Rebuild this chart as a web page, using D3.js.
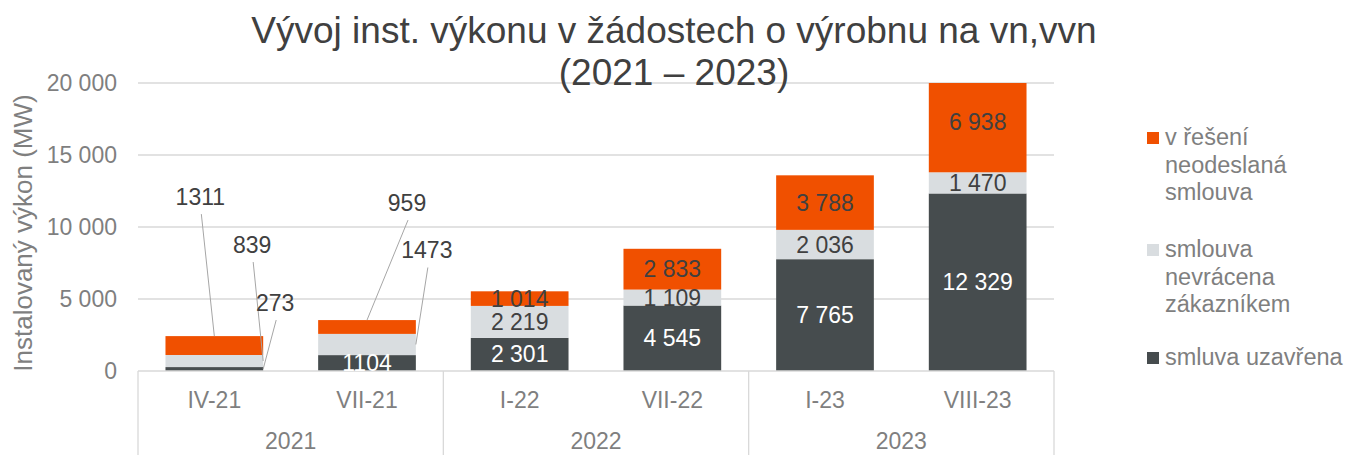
<!DOCTYPE html>
<html>
<head>
<meta charset="utf-8">
<script src="https://cdn.jsdelivr.net/npm/d3@7"></script>
<style>
  body { margin: 0; background: #fff; }
  text { font-family: "Liberation Sans", Arial, sans-serif; }
</style>
</head>
<body>
<div id="chart"></div>
<script>
// data
var categories = ["IV-21", "VII-21", "I-22", "VII-22", "I-23", "VIII-23"];
var years = ["2021", "2021", "2022", "2022", "2023", "2023"];
var uzavrena = [273, 1104, 2301, 4545, 7765, 12329];
var nevracena = [839, 1473, 2219, 1109, 2036, 1470];
var reseni = [1311, 959, 1014, 2833, 3788, 6938];
var yTicks = [0, 5000, 10000, 15000, 20000];
var seriesKeys = ["uzavrena", "nevracena", "reseni"];
var legendLines = {
  reseni: ["v řešení", "neodeslaná", "smlouva"],
  nevracena: ["smlouva", "nevrácena", "zákazníkem"],
  uzavrena: ["smluva uzavřena"]
};
var titleLines = ["Vývoj inst. výkonu v žádostech o výrobnu na vn,vvn", "(2021 – 2023)"];
var yTitle = "Instalovaný výkon (MW)";

// colours
var colors = { uzavrena: "#464c4e", nevracena: "#d9dde0", reseni: "#f05000" };
var labelColors = { uzavrena: "#ffffff", nevracena: "#404040", reseni: "#404040" };

// labels placed outside with leader lines (offsets in px from the anchor on the bar)
var callouts = [
  { cat: "IV-21", key: "reseni", side: "top", dx: -14, dy: -139 },
  { cat: "IV-21", key: "nevracena", side: "right", dx: -11, dy: -116 },
  { cat: "IV-21", key: "uzavrena", side: "right", dx: 12, dy: -66 },
  { cat: "VII-21", key: "reseni", side: "top", dx: 40, dy: -117 },
  { cat: "VII-21", key: "nevracena", side: "right", dx: 11, dy: -94 }
];

var svgWidth = 1348;
var svgHeight = 455;
var margin = { top: 83, right: 294, bottom: 84, left: 138 };
var width = svgWidth - margin.left - margin.right;
var height = svgHeight - margin.top - margin.bottom;

var svg = d3.select("#chart")
  .append("svg")
  .attr("width", svgWidth)
  .attr("height", svgHeight);

// build table for the stack
var table = categories.map(function(c, i) {
  return { cat: c, year: years[i], uzavrena: uzavrena[i], nevracena: nevracena[i], reseni: reseni[i] };
});
var stacked = d3.stack().keys(seriesKeys)(table);

var x = d3.scaleBand()
  .domain(categories)
  .range([margin.left, margin.left + width])
  .paddingInner(0.36)
  .paddingOuter(0.18);

var y = d3.scaleLinear()
  .domain([0, 20000])
  .range([margin.top + height, margin.top]);

var fmtSpace = function(v) { return d3.format(",")(v).replace(/,/g, " "); };
var fmtLabel = function(v, year) { return year === "2021" ? String(v) : fmtSpace(v); };

// gridlines
svg.append("g")
  .selectAll("line")
  .data(yTicks.filter(function(t) { return t > 0; }))
  .enter()
  .append("line")
  .attr("x1", margin.left)
  .attr("x2", margin.left + width)
  .attr("y1", function(d) { return y(d); })
  .attr("y2", function(d) { return y(d); })
  .attr("stroke", "#d9d9d9")
  .attr("stroke-width", 1.3);

// y axis labels
var yAxis = svg.append("g")
  .attr("transform", "translate(" + margin.left + ",0)")
  .call(d3.axisLeft(y).tickValues(yTicks).tickSize(0).tickPadding(21).tickFormat(fmtSpace));
yAxis.select(".domain").remove();
yAxis.selectAll("text")
  .attr("fill", "#7f7f7f")
  .style("font-size", "23px")
  .style("font-family", "'Liberation Sans', Arial, sans-serif");

// y title
svg.append("text")
  .attr("transform", "translate(32,233) rotate(-90)")
  .attr("text-anchor", "middle")
  .attr("fill", "#7f7f7f")
  .style("font-size", "26px")
  .text(yTitle);

// clip at the top of the value axis
svg.append("clipPath")
  .attr("id", "plotClip")
  .append("rect")
  .attr("x", margin.left)
  .attr("y", margin.top)
  .attr("width", width)
  .attr("height", height);

var barsGroup = svg.append("g").attr("clip-path", "url(#plotClip)");

barsGroup.selectAll("g")
  .data(stacked)
  .enter()
  .append("g")
  .attr("fill", function(s) { return colors[s.key]; })
  .selectAll("rect")
  .data(function(s) { return s; })
  .enter()
  .append("rect")
  .attr("x", function(d) { return x(d.data.cat); })
  .attr("width", x.bandwidth())
  .attr("y", function(d) { return y(d[1]); })
  .attr("height", function(d) { return y(d[0]) - y(d[1]); });

// category axis: base line, group separators, labels
var y0 = y(0);
svg.append("line")
  .attr("x1", margin.left)
  .attr("x2", margin.left + width)
  .attr("y1", y0)
  .attr("y2", y0)
  .attr("stroke", "#d9d9d9")
  .attr("stroke-width", 1.3);

var groups = [];
years.forEach(function(yr, i) {
  if (!groups.length || groups[groups.length - 1].year !== yr) {
    groups.push({ year: yr, start: i, end: i });
  } else {
    groups[groups.length - 1].end = i;
  }
});
var step = x.step();
var sepIdx = [0].concat(groups.map(function(g) { return g.end + 1; }));

svg.append("g")
  .selectAll("line")
  .data(sepIdx)
  .enter()
  .append("line")
  .attr("x1", function(i) { return margin.left + i * step; })
  .attr("x2", function(i) { return margin.left + i * step; })
  .attr("y1", y0)
  .attr("y2", svgHeight)
  .attr("stroke", "#d9d9d9")
  .attr("stroke-width", 1.3);

svg.append("g")
  .selectAll("text")
  .data(categories)
  .enter()
  .append("text")
  .attr("x", function(d) { return x(d) + x.bandwidth() / 2; })
  .attr("y", y0 + 37)
  .attr("text-anchor", "middle")
  .attr("fill", "#7f7f7f")
  .style("font-size", "23px")
  .text(function(d) { return d; });

svg.append("g")
  .selectAll("text")
  .data(groups)
  .enter()
  .append("text")
  .attr("x", function(g) { return margin.left + (g.start + g.end + 1) / 2 * step; })
  .attr("y", y0 + 78)
  .attr("text-anchor", "middle")
  .attr("fill", "#7f7f7f")
  .style("font-size", "23px")
  .text(function(g) { return g.year; });

// data labels
var isCallout = function(cat, key) {
  return callouts.some(function(c) { return c.cat === cat && c.key === key; });
};

var labelsGroup = svg.append("g").attr("clip-path", "url(#plotClip)");
stacked.forEach(function(s) {
  labelsGroup.selectAll(null)
    .data(s.filter(function(d) { return !isCallout(d.data.cat, s.key); }))
    .enter()
    .append("text")
    .attr("x", function(d) { return x(d.data.cat) + x.bandwidth() / 2; })
    .attr("y", function(d) { return (y(d[0]) + y(d[1])) / 2 + 8; })
    .attr("text-anchor", "middle")
    .attr("fill", labelColors[s.key])
    .style("font-size", "23px")
    .text(function(d) { return fmtLabel(d[1] - d[0], d.data.year); });
});

// callouts with leader lines
var calloutGroup = svg.append("g");
callouts.forEach(function(c) {
  var s = stacked.find(function(st) { return st.key === c.key; });
  var d = s[categories.indexOf(c.cat)];
  var ax, ay;
  if (c.side === "top") {
    ax = x(c.cat) + x.bandwidth() / 2;
    ay = y(d[1]);
  } else {
    ax = x(c.cat) + x.bandwidth();
    ay = (y(d[0]) + y(d[1])) / 2;
  }
  var lx = ax + c.dx;
  var ly = ay + c.dy;
  calloutGroup.append("line")
    .attr("x1", lx + 1)
    .attr("y1", ly + 17)
    .attr("x2", ax)
    .attr("y2", ay)
    .attr("stroke", "#a6a6a6")
    .attr("stroke-width", 1);
  calloutGroup.append("text")
    .attr("x", lx)
    .attr("y", ly + 8)
    .attr("text-anchor", "middle")
    .attr("fill", "#404040")
    .style("font-size", "23px")
    .text(fmtLabel(d[1] - d[0], d.data.year));
});

// title
svg.append("g")
  .selectAll("text")
  .data(titleLines)
  .enter()
  .append("text")
  .attr("x", 674)
  .attr("y", function(d, i) { return 43 + i * 41.5; })
  .attr("text-anchor", "middle")
  .attr("fill", "#404040")
  .style("font-size", "37px")
  .text(function(d) { return d; });

// legend (top entry = top of stack)
var legendY = [145, 257, 365];
var legend = svg.append("g").attr("transform", "translate(1147,0)");
var legendItems = legend.selectAll("g")
  .data(seriesKeys.slice().reverse())
  .enter()
  .append("g")
  .attr("transform", function(k, i) { return "translate(0," + legendY[i] + ")"; });
legendItems.append("rect")
  .attr("x", 0)
  .attr("y", -13)
  .attr("width", 12)
  .attr("height", 12)
  .attr("fill", function(k) { return colors[k]; });
legendItems.each(function(k) {
  var t = d3.select(this).append("text")
    .attr("fill", "#7f7f7f")
    .style("font-size", "23.5px");
  legendLines[k].forEach(function(line, j) {
    t.append("tspan")
      .attr("x", 18)
      .attr("y", j * 27.5)
      .text(line);
  });
});
</script>
</body>
</html>
